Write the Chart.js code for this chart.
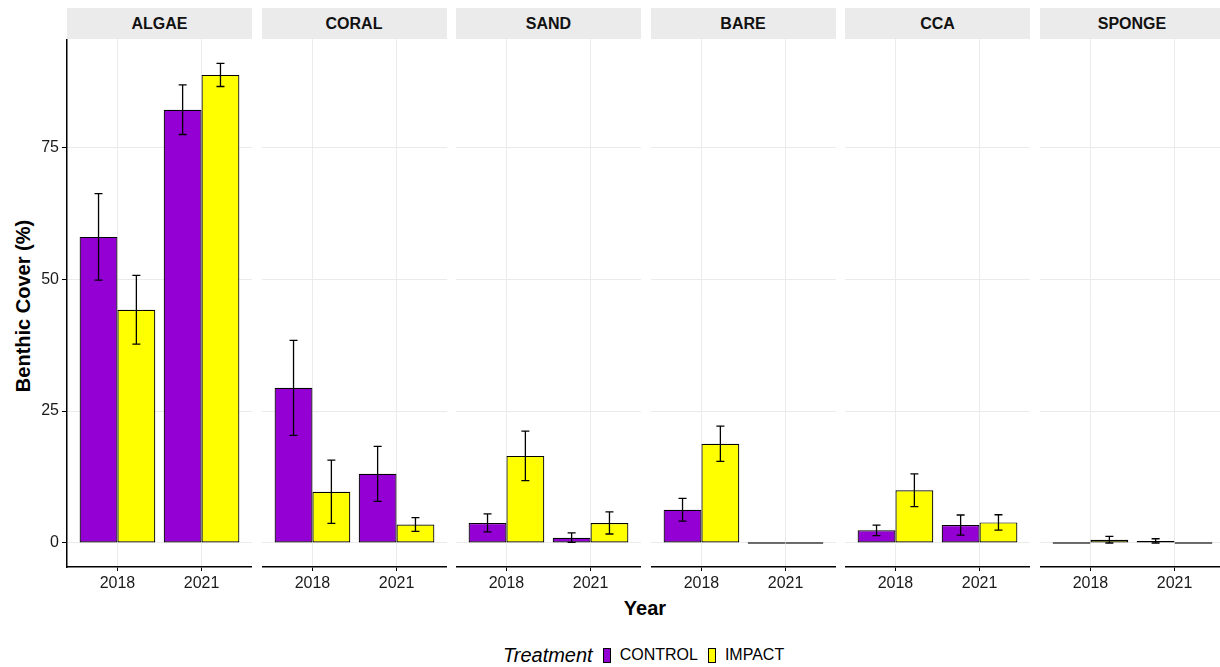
<!DOCTYPE html>
<html>
<head>
<meta charset="utf-8">
<script src="https://cdn.jsdelivr.net/npm/chart.js@4"></script>
<style>
  html, body { margin: 0; padding: 0; background: #fff; overflow: hidden; }
  body { width: 1220px; height: 667px; position: relative; font-family: "Liberation Sans", Arial, sans-serif; color: #000; }
  canvas { position: absolute; }
  .strip { position: absolute; top: 8px; height: 31px; background: #ebebeb; font-weight: bold; font-size: 16px;
           line-height: 31px; text-align: center; color: #111; }
  .ytitle { position: absolute; left: 23px; top: 306px; transform: translate(-50%, -50%) rotate(-90deg);
            font-weight: bold; font-size: 20px; white-space: nowrap; }
  .xtitle { position: absolute; left: 645px; top: 608px; transform: translate(-50%, -50%);
            font-weight: bold; font-size: 20px; }
  .legend { position: absolute; left: 503px; top: 644px; height: 22px; display: flex; align-items: center; white-space: nowrap; }
  .legend .ttl { font-style: italic; font-size: 20px; margin-right: 10px; }
  .legend .key { width: 6px; height: 13px; border: 1px solid #000; margin-right: 9px; }
  .legend .lab { font-size: 16px; margin-right: 10px; }
</style>
</head>
<body>
<div class="ytitle">Benthic Cover (%)</div>
<div class="xtitle">Year</div>
<div class="legend">
  <span class="ttl">Treatment</span>
  <span class="key" style="background:#9400d3"></span><span class="lab">CONTROL</span>
  <span class="key" style="background:#ffff00"></span><span class="lab">IMPACT</span>
</div>
<script>
// facets, years and tick labels
const groups = ['ALGAE', 'CORAL', 'SAND', 'BARE', 'CCA', 'SPONGE'];
const years = ['2018', '2021'];
const yTicks = [0, 25, 50, 75];

// mean cover (%) per facet
const control2018 = [58.0, 29.4, 3.8, 6.3, 2.4, 0];
const control2021 = [82.1, 13.1, 1.0, 0, 3.4, 0.4];
const impact2018 = [44.2, 9.7, 16.5, 18.8, 10.0, 0.6];
const impact2021 = [88.7, 3.5, 3.8, 0, 3.9, 0];

// standard errors per facet
const controlSe2018 = [8.2, 9.0, 1.7, 2.15, 1.0, 0];
const controlSe2021 = [4.7, 5.2, 0.9, 0, 1.9, 0.4];
const impactSe2018 = [6.5, 6.0, 4.7, 3.35, 3.1, 0.65];
const impactSe2021 = [2.2, 1.3, 2.1, 0, 1.45, 0];

const PURPLE = '#9400d3';
const YELLOW = '#ffff00';
const FONT = '"Liberation Sans", Arial, sans-serif';

// draws mean +/- se whiskers on each bar
const errorBars = {
  id: 'errorBars',
  afterDatasetsDraw(chart) {
    const ctx = chart.ctx;
    const yScale = chart.scales.y;
    ctx.save();
    ctx.strokeStyle = '#000';
    ctx.lineWidth = 1.3;
    chart.data.datasets.forEach((ds, di) => {
      chart.getDatasetMeta(di).data.forEach((bar, i) => {
        const se = ds.se[i];
        if (!se) return;
        const v = ds.data[i].y;
        const top = yScale.getPixelForValue(v + se);
        const bot = yScale.getPixelForValue(Math.max(0, v - se));
        const x = bar.x, cap = 4;
        ctx.beginPath();
        ctx.moveTo(x, top); ctx.lineTo(x, bot);
        ctx.moveTo(x - cap, top); ctx.lineTo(x + cap, top);
        ctx.moveTo(x - cap, bot); ctx.lineTo(x + cap, bot);
        ctx.stroke();
      });
    });
    ctx.restore();
  }
};

const PANEL_W = 185, PANEL_STEP = 194.5, FIRST_LEFT = 67;
const AREA_TOP = 39, AREA_H = 528, XAXIS_H = 40;

// scales add room for their end labels; the panels here are placed by hand
const noPad = s => { s.paddingTop = 0; s.paddingBottom = 0; s.paddingLeft = 0; s.paddingRight = 0; };

groups.forEach((name, gi) => {
  const panelLeft = FIRST_LEFT + gi * PANEL_STEP;
  const first = gi === 0;
  const yWidth = first ? FIRST_LEFT : 0;

  const strip = document.createElement('div');
  strip.className = 'strip';
  strip.style.left = panelLeft + 'px';
  strip.style.width = PANEL_W + 'px';
  strip.textContent = name;
  document.body.appendChild(strip);

  const canvas = document.createElement('canvas');
  canvas.width = PANEL_W + yWidth;
  canvas.height = AREA_H + XAXIS_H;
  canvas.style.left = (panelLeft - yWidth) + 'px';
  canvas.style.top = AREA_TOP + 'px';
  document.body.appendChild(canvas);

  new Chart(canvas, {
    type: 'bar',
    data: {
      datasets: [
        {
          label: 'CONTROL',
          data: [{ x: 1, y: control2018[gi] }, { x: 2, y: control2021[gi] }],
          se: [controlSe2018[gi], controlSe2021[gi]],
          backgroundColor: PURPLE
        },
        {
          label: 'IMPACT',
          data: [{ x: 1, y: impact2018[gi] }, { x: 2, y: impact2021[gi] }],
          se: [impactSe2018[gi], impactSe2021[gi]],
          backgroundColor: YELLOW
        }
      ]
    },
    options: {
      responsive: false,
      animation: false,
      devicePixelRatio: 1,
      layout: { padding: 0, autoPadding: false },
      datasets: {
        bar: {
          borderColor: '#000',
          borderWidth: 1.2,
          borderSkipped: false,
          categoryPercentage: 0.9,
          barPercentage: 1.0,
          minBarLength: 1.5
        }
      },
      plugins: { legend: { display: false }, tooltip: { enabled: false } },
      scales: {
        x: {
          type: 'linear',
          offset: false,
          min: 0.4,
          max: 2.6,
          afterBuildTicks: s => { s.ticks = years.map((_, i) => ({ value: i + 1 })); },
          afterFit: s => { s.height = XAXIS_H; noPad(s); },
          grid: { offset: false, color: '#ebebeb', lineWidth: 1, tickColor: '#000', tickLength: 4, drawTicks: true },
          border: { display: true, color: '#000', width: 1.5 },
          ticks: {
            color: '#1a1a1a', padding: 3, maxRotation: 0,
            font: { family: FONT, size: 16 },
            callback: v => years[v - 1]
          }
        },
        y: {
          min: -4.55,
          max: 95.5,
          afterBuildTicks: s => { s.ticks = yTicks.map(v => ({ value: v })); },
          afterFit: s => { s.width = yWidth; noPad(s); },
          grid: { color: '#ebebeb', lineWidth: 1, tickColor: '#000', tickLength: 5, drawTicks: first },
          border: { display: first, color: '#000', width: 1.5 },
          ticks: {
            display: first, color: '#1a1a1a', padding: 3,
            font: { family: FONT, size: 16 }
          }
        }
      }
    },
    plugins: [errorBars]
  });
});
</script>
</body>
</html>
